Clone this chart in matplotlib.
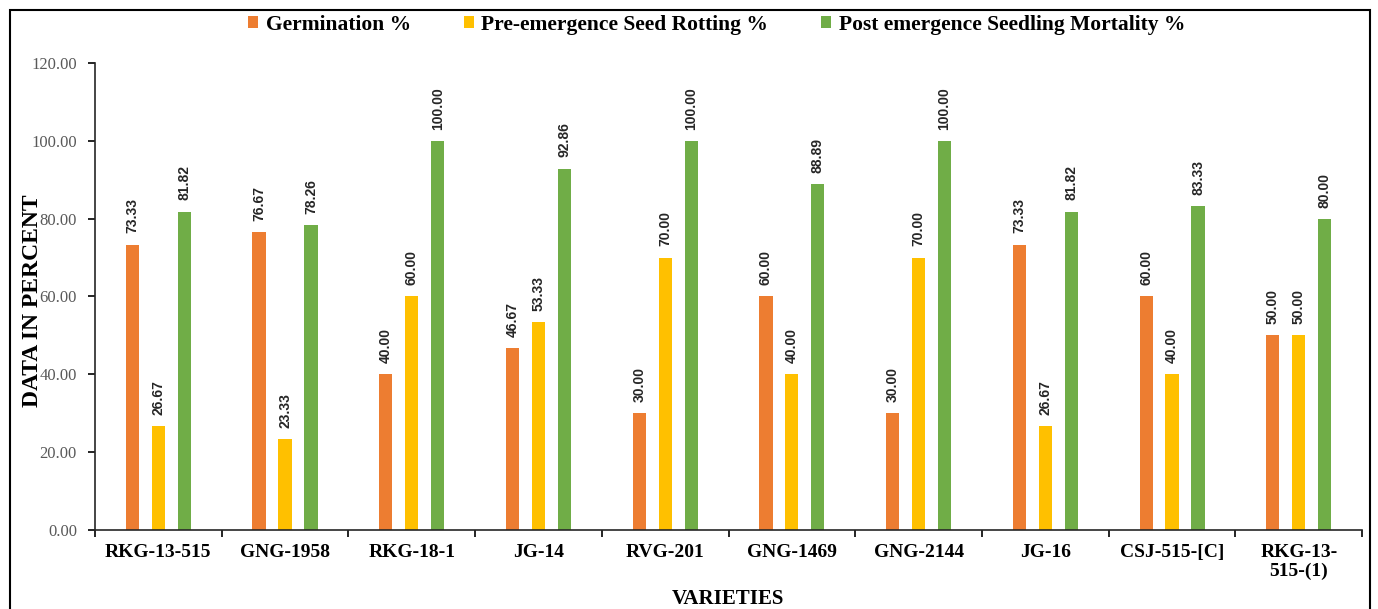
import matplotlib.pyplot as plt
from matplotlib.patches import Rectangle
import numpy as np

varieties = ["RKG-13-515", "GNG-1958", "RKG-18-1", "JG-14", "RVG-201",
             "GNG-1469", "GNG-2144", "JG-16", "CSJ-515-[C]", "RKG-13-\n515-(1)"]
germination = [73.33, 76.67, 40.00, 46.67, 30.00, 60.00, 30.00, 73.33, 60.00, 50.00]
seed_rotting = [26.67, 23.33, 60.00, 53.33, 70.00, 40.00, 70.00, 26.67, 40.00, 50.00]
mortality = [81.82, 78.26, 100.00, 92.86, 100.00, 88.89, 100.00, 81.82, 83.33, 80.00]

series = [("Germination %", germination, "#ED7D31"),
          ("Pre-emergence Seed Rotting %", seed_rotting, "#FFC000"),
          ("Post emergence Seedling Mortality %", mortality, "#70AD47")]

serif = "Liberation Serif"

fig = plt.figure(figsize=(13.78, 6.09), dpi=100)
ax = fig.add_axes([0.0689, 0.1297, 0.9196, 0.7669])

x = np.arange(len(varieties))
w = 0.104
offsets = [-0.205, 0, 0.205]
for (name, vals, col), off in zip(series, offsets):
    bars = ax.bar(x + off, vals, w, color=col, label=name)
    for b, v in zip(bars, vals):
        ax.annotate("%.2f" % v, (b.get_x() + b.get_width() / 2, v),
                    xytext=(0, 8), textcoords="offset points",
                    rotation=90, ha="center", va="bottom",
                    fontsize=10, fontweight="bold", family="Liberation Sans",
                    color="#262626")

ax.set_xlim(-0.5, len(varieties) - 0.5)
ax.set_ylim(0, 120)
ax.set_yticks(np.arange(0, 121, 20))
ax.set_yticklabels(["%.2f" % t for t in np.arange(0, 121, 20)],
                   family=serif, fontsize=12, color="#595959")
ax.set_xticks(x)
ax.set_xticklabels(varieties, family=serif, fontsize=14, fontweight="bold",
                   linespacing=1.1)
ax.set_xticks(np.arange(-0.5, len(varieties)), minor=True)
ax.tick_params(axis="x", which="major", length=0, pad=10)
ax.tick_params(axis="x", which="minor", length=5, width=1.2, direction="out")
ax.tick_params(axis="y", length=5, width=1.2, direction="out", pad=8)
for s in ["top", "right"]:
    ax.spines[s].set_visible(False)
for s in ["left", "bottom"]:
    ax.spines[s].set_linewidth(1.2)
    ax.spines[s].set_color("#262626")

ax.set_ylabel("DATA IN PERCENT", family=serif, fontsize=17, fontweight="bold")
ax.yaxis.set_label_coords(-0.041, 0.49)
fig.text(0.528, 1 - 589 / 609, "VARIETIES", family=serif, fontsize=15,
         fontweight="bold", ha="center", va="top")

fig.legend(loc="upper center", bbox_to_anchor=(0.52, 1.008), ncol=3, frameon=False,
           handlelength=0.48, handleheight=0.48, handletextpad=0.35, columnspacing=2.45,
           prop={"family": serif, "weight": "bold", "size": 15.5})

fig.patches.append(Rectangle((10 / 1378, -0.05), 1360 / 1378, 1.05 - 10 / 609,
                             transform=fig.transFigure, fill=False,
                             edgecolor="black", linewidth=1.5))

fig.savefig("out.png", dpi=100)
